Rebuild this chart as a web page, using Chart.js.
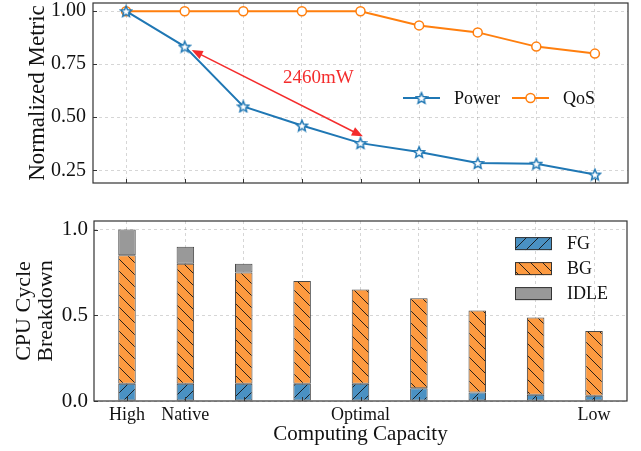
<!DOCTYPE html>
<html>
<head>
<meta charset="utf-8">
<script src="https://cdn.jsdelivr.net/npm/chart.js@4.4.1/dist/chart.umd.min.js"></script>
<style>
  html, body { margin: 0; padding: 0; background: #fff; }
  #wrap { position: relative; width: 641px; height: 451px; }
  canvas { position: absolute; left: 0; }
</style>
</head>
<body>
<div id="wrap">
  <canvas id="metric" width="641" height="200" style="top:0"></canvas>
  <canvas id="cycles" width="641" height="251" style="top:200px"></canvas>
</div>
<script>
// categories along the x axis (blank ones have no tick label)
const capacities = ['High', 'Native', '', '', 'Optimal', '', '', '', 'Low'];

// top panel
const power = [1.00, 0.833, 0.551, 0.461, 0.378, 0.336, 0.284, 0.281, 0.230];
const qos = [1.00, 1.00, 1.00, 1.00, 1.00, 0.933, 0.90, 0.833, 0.80];
const metricTicks = [0.25, 0.50, 0.75, 1.00];

// bottom panel
const fg = [0.10, 0.10, 0.10, 0.10, 0.10, 0.075, 0.05, 0.037, 0.03];
const bg = [0.75, 0.70, 0.65, 0.60, 0.55, 0.525, 0.478, 0.45, 0.378];
const idle = [0.15, 0.10, 0.05, 0, 0, 0, 0, 0, 0];
const cycleTicks = [0, 0.5, 1.0];

// annotation: arrow between Native and Optimal power
const arrowFrom = [1.12, 0.817];
const arrowTo = [4.04, 0.41];
const arrowText = '2460mW';
const arrowTextAt = [3.28, 0.685];

const SERIF = "'Liberation Serif', 'Times New Roman', serif";
const BLUE = '#1f77b4';
const ORANGE = '#ff7f0e';
const RED = '#f42c2c';
const GRID = 'rgba(0,0,0,0.16)';
const EDGE = '#333';

Chart.defaults.font.family = SERIF;
Chart.defaults.color = '#111';

function makeHatch(fill, dir) {
  const s = 12;
  const c = document.createElement('canvas');
  c.width = s; c.height = s;
  const g = c.getContext('2d');
  g.fillStyle = fill;
  g.fillRect(0, 0, s, s);
  g.strokeStyle = 'rgba(20,20,20,0.9)';
  g.lineWidth = 1;
  g.beginPath();
  if (dir === '/') {
    g.moveTo(-2, s + 2); g.lineTo(s + 2, -2);
    g.moveTo(-2, 2); g.lineTo(2, -2);
    g.moveTo(s - 2, s + 2); g.lineTo(s + 2, s - 2);
  } else {
    g.moveTo(-2, -2); g.lineTo(s + 2, s + 2);
    g.moveTo(s - 2, -2); g.lineTo(s + 2, 2);
    g.moveTo(-2, s - 2); g.lineTo(2, s + 2);
  }
  g.stroke();
  return g.createPattern(c, 'repeat');
}

function makeStar(size, color) {
  const c = document.createElement('canvas');
  c.width = size; c.height = size;
  const g = c.getContext('2d');
  const cx = size / 2, cy = size / 2 + 0.6;
  const R = size / 2 - 1.2, r = R * 0.45;
  g.beginPath();
  for (let k = 0; k < 10; k++) {
    const ang = -Math.PI / 2 + k * Math.PI / 5;
    const rad = k % 2 ? r : R;
    g.lineTo(cx + rad * Math.cos(ang), cy + rad * Math.sin(ang));
  }
  g.closePath();
  g.fillStyle = '#fff';
  g.fill();
  g.strokeStyle = color;
  g.lineWidth = 1.5;
  g.stroke();
  return c;
}

const star = makeStar(14, BLUE);
const fgFill = makeHatch('#4a91c3', '/');
const bgFill = makeHatch('#fd9a40', '\\');
const idleFill = '#999999';

// full box + inward ticks
const frame = {
  id: 'frame',
  afterDraw(chart) {
    const { ctx, chartArea: a, scales } = chart;
    ctx.save();
    ctx.strokeStyle = EDGE;
    ctx.lineWidth = 1.2;
    ctx.strokeRect(a.left, a.top, a.right - a.left, a.bottom - a.top);
    ctx.lineWidth = 1;
    ctx.beginPath();
    scales.x.ticks.forEach(t => {
      const px = Math.round(scales.x.getPixelForValue(t.value)) + 0.5;
      ctx.moveTo(px, a.bottom); ctx.lineTo(px, a.bottom - 4);
    });
    scales.y.ticks.forEach(t => {
      const py = Math.round(scales.y.getPixelForValue(t.value)) + 0.5;
      ctx.moveTo(a.left, py); ctx.lineTo(a.left + 4, py);
    });
    ctx.stroke();
    ctx.restore();
  }
};

function arrowHead(ctx, tip, from) {
  const ang = Math.atan2(tip.y - from.y, tip.x - from.x);
  const L = 11, W = 4.5;
  const bx = tip.x - L * Math.cos(ang), by = tip.y - L * Math.sin(ang);
  ctx.beginPath();
  ctx.moveTo(tip.x, tip.y);
  ctx.lineTo(bx + W * Math.sin(ang), by - W * Math.cos(ang));
  ctx.lineTo(bx - W * Math.sin(ang), by + W * Math.cos(ang));
  ctx.closePath();
  ctx.fill();
}

const arrow = {
  id: 'arrow',
  afterDatasetsDraw(chart) {
    const { ctx, scales: { x, y } } = chart;
    const p1 = { x: x.getPixelForValue(arrowFrom[0]), y: y.getPixelForValue(arrowFrom[1]) };
    const p2 = { x: x.getPixelForValue(arrowTo[0]), y: y.getPixelForValue(arrowTo[1]) };
    ctx.save();
    ctx.strokeStyle = RED;
    ctx.fillStyle = RED;
    ctx.lineWidth = 1.5;
    const ang = Math.atan2(p2.y - p1.y, p2.x - p1.x);
    ctx.beginPath();
    ctx.moveTo(p1.x + 8 * Math.cos(ang), p1.y + 8 * Math.sin(ang));
    ctx.lineTo(p2.x - 8 * Math.cos(ang), p2.y - 8 * Math.sin(ang));
    ctx.stroke();
    arrowHead(ctx, p1, p2);
    arrowHead(ctx, p2, p1);
    ctx.font = '19px ' + SERIF;
    ctx.textAlign = 'center';
    ctx.textBaseline = 'middle';
    ctx.fillText(arrowText, x.getPixelForValue(arrowTextAt[0]), y.getPixelForValue(arrowTextAt[1]));
    ctx.restore();
  }
};

const lineLegend = {
  id: 'lineLegend',
  afterDraw(chart) {
    const { ctx, chartArea: a } = chart;
    const ly = a.top + 95;
    let lx = a.right - 225;
    ctx.save();
    ctx.font = '18px ' + SERIF;
    ctx.textBaseline = 'middle';
    chart.data.datasets.forEach(ds => {
      ctx.strokeStyle = ds.borderColor;
      ctx.lineWidth = 2;
      ctx.beginPath();
      ctx.moveTo(lx, ly); ctx.lineTo(lx + 37, ly);
      ctx.stroke();
      const mx = lx + 18.5;
      if (ds.pointStyle === 'circle') {
        ctx.beginPath();
        ctx.arc(mx, ly, ds.pointRadius, 0, Math.PI * 2);
        ctx.fillStyle = '#fff';
        ctx.fill();
        ctx.lineWidth = ds.pointBorderWidth;
        ctx.stroke();
      } else {
        ctx.drawImage(ds.pointStyle, mx - ds.pointStyle.width / 2, ly - ds.pointStyle.height / 2);
      }
      ctx.fillStyle = '#111';
      ctx.fillText(ds.label, lx + 51, ly + 1);
      lx += 51 + ctx.measureText(ds.label).width + 12;
    });
    ctx.restore();
  }
};

const barLegend = {
  id: 'barLegend',
  afterDraw(chart) {
    const { ctx, chartArea: a } = chart;
    ctx.save();
    ctx.font = '18px ' + SERIF;
    ctx.textBaseline = 'middle';
    chart.data.datasets.forEach((ds, i) => {
      const cy = a.top + 22.6 + i * 25;
      const bx = a.right - 112;
      ctx.fillStyle = ds.backgroundColor;
      ctx.fillRect(bx, cy - 6.5, 37, 13);
      ctx.strokeStyle = EDGE;
      ctx.lineWidth = 1;
      ctx.strokeRect(bx + 0.5, cy - 6, 36, 12);
      ctx.fillStyle = '#111';
      ctx.fillText(ds.label, a.right - 60, cy + 1);
    });
    ctx.restore();
  }
};

const xRange = { min: -0.565, max: 8.565 };

new Chart(document.getElementById('metric'), {
  type: 'line',
  data: {
    datasets: [
      {
        label: 'Power',
        data: power.map((v, i) => ({ x: i, y: v })),
        borderColor: BLUE,
        borderWidth: 2,
        pointStyle: star,
        pointRadius: 7
      },
      {
        label: 'QoS',
        data: qos.map((v, i) => ({ x: i, y: v })),
        borderColor: ORANGE,
        borderWidth: 2,
        pointStyle: 'circle',
        pointRadius: 4.5,
        pointBackgroundColor: '#fff',
        pointBorderColor: ORANGE,
        pointBorderWidth: 1.5
      }
    ]
  },
  options: {
    responsive: false,
    animation: false,
    layout: { autoPadding: false, padding: { left: 20, right: 13, top: 3, bottom: 0 } },
    plugins: { legend: { display: false }, tooltip: { enabled: false } },
    scales: {
      x: {
        type: 'linear',
        min: xRange.min, max: xRange.max,
        afterBuildTicks: s => { s.ticks = capacities.map((c, i) => ({ value: i })); },
        ticks: { display: false },
        grid: { color: GRID, drawTicks: false },
        border: { display: false, dash: [3, 3] },
        afterFit: s => { s.height = 17; s.paddingLeft = 0; s.paddingRight = 0; }
      },
      y: {
        min: 0.19, max: 1.0386,
        afterBuildTicks: s => { s.ticks = metricTicks.map(v => ({ value: v })); },
        ticks: { font: { size: 20 }, padding: 7, callback: v => v.toFixed(2) },
        grid: { color: GRID, drawTicks: false },
        border: { display: false, dash: [3, 3] },
        title: { display: true, text: 'Normalized Metric', font: { size: 23 }, padding: { top: 4, bottom: 0 } },
        afterFit: s => { s.width = 73; s.paddingTop = 0; s.paddingBottom = 0; }
      }
    }
  },
  plugins: [frame, arrow, lineLegend]
});

const orNull = arr => arr.map((v, i) => ({ x: i, y: v === 0 ? null : v }));

new Chart(document.getElementById('cycles'), {
  type: 'bar',
  data: {
    datasets: [
      { label: 'FG', data: orNull(fg), backgroundColor: fgFill },
      { label: 'BG', data: orNull(bg), backgroundColor: bgFill },
      { label: 'IDLE', data: orNull(idle), backgroundColor: idleFill }
    ]
  },
  options: {
    responsive: false,
    animation: false,
    layout: { autoPadding: false, padding: { left: 9, right: 14, top: 21, bottom: 0 } },
    plugins: { legend: { display: false }, tooltip: { enabled: false } },
    datasets: {
      bar: {
        borderColor: 'rgba(40,40,40,0.85)',
        borderWidth: 1,
        borderSkipped: false,
        barPercentage: 0.3,
        categoryPercentage: 1
      }
    },
    scales: {
      x: {
        type: 'linear',
        stacked: true,
        offset: false,
        min: xRange.min, max: xRange.max,
        afterBuildTicks: s => { s.ticks = capacities.map((c, i) => ({ value: i })); },
        ticks: { font: { size: 18 }, padding: 3, autoSkip: false, maxRotation: 0, callback: (v, i) => capacities[i] },
        grid: { color: GRID, drawTicks: false, offset: false },
        border: { display: false, dash: [3, 3] },
        title: { display: true, text: 'Computing Capacity', font: { size: 21 }, padding: { top: 0, bottom: 4 } },
        afterFit: s => { s.height = 50; s.paddingLeft = 0; s.paddingRight = 0; }
      },
      y: {
        stacked: true,
        min: 0, max: 1.05,
        afterBuildTicks: s => { s.ticks = cycleTicks.map(v => ({ value: v })); },
        ticks: { font: { size: 21 }, padding: 6, callback: v => v.toFixed(1) },
        grid: { color: GRID, drawTicks: false },
        border: { display: false, dash: [3, 3] },
        title: { display: true, text: ['CPU Cycle', 'Breakdown'], font: { size: 22, lineHeight: 1 }, padding: { top: 4, bottom: 0 } },
        afterFit: s => { s.width = 85; s.paddingTop = 0; s.paddingBottom = 0; }
      }
    }
  },
  plugins: [frame, barLegend]
});
</script>
</body>
</html>
